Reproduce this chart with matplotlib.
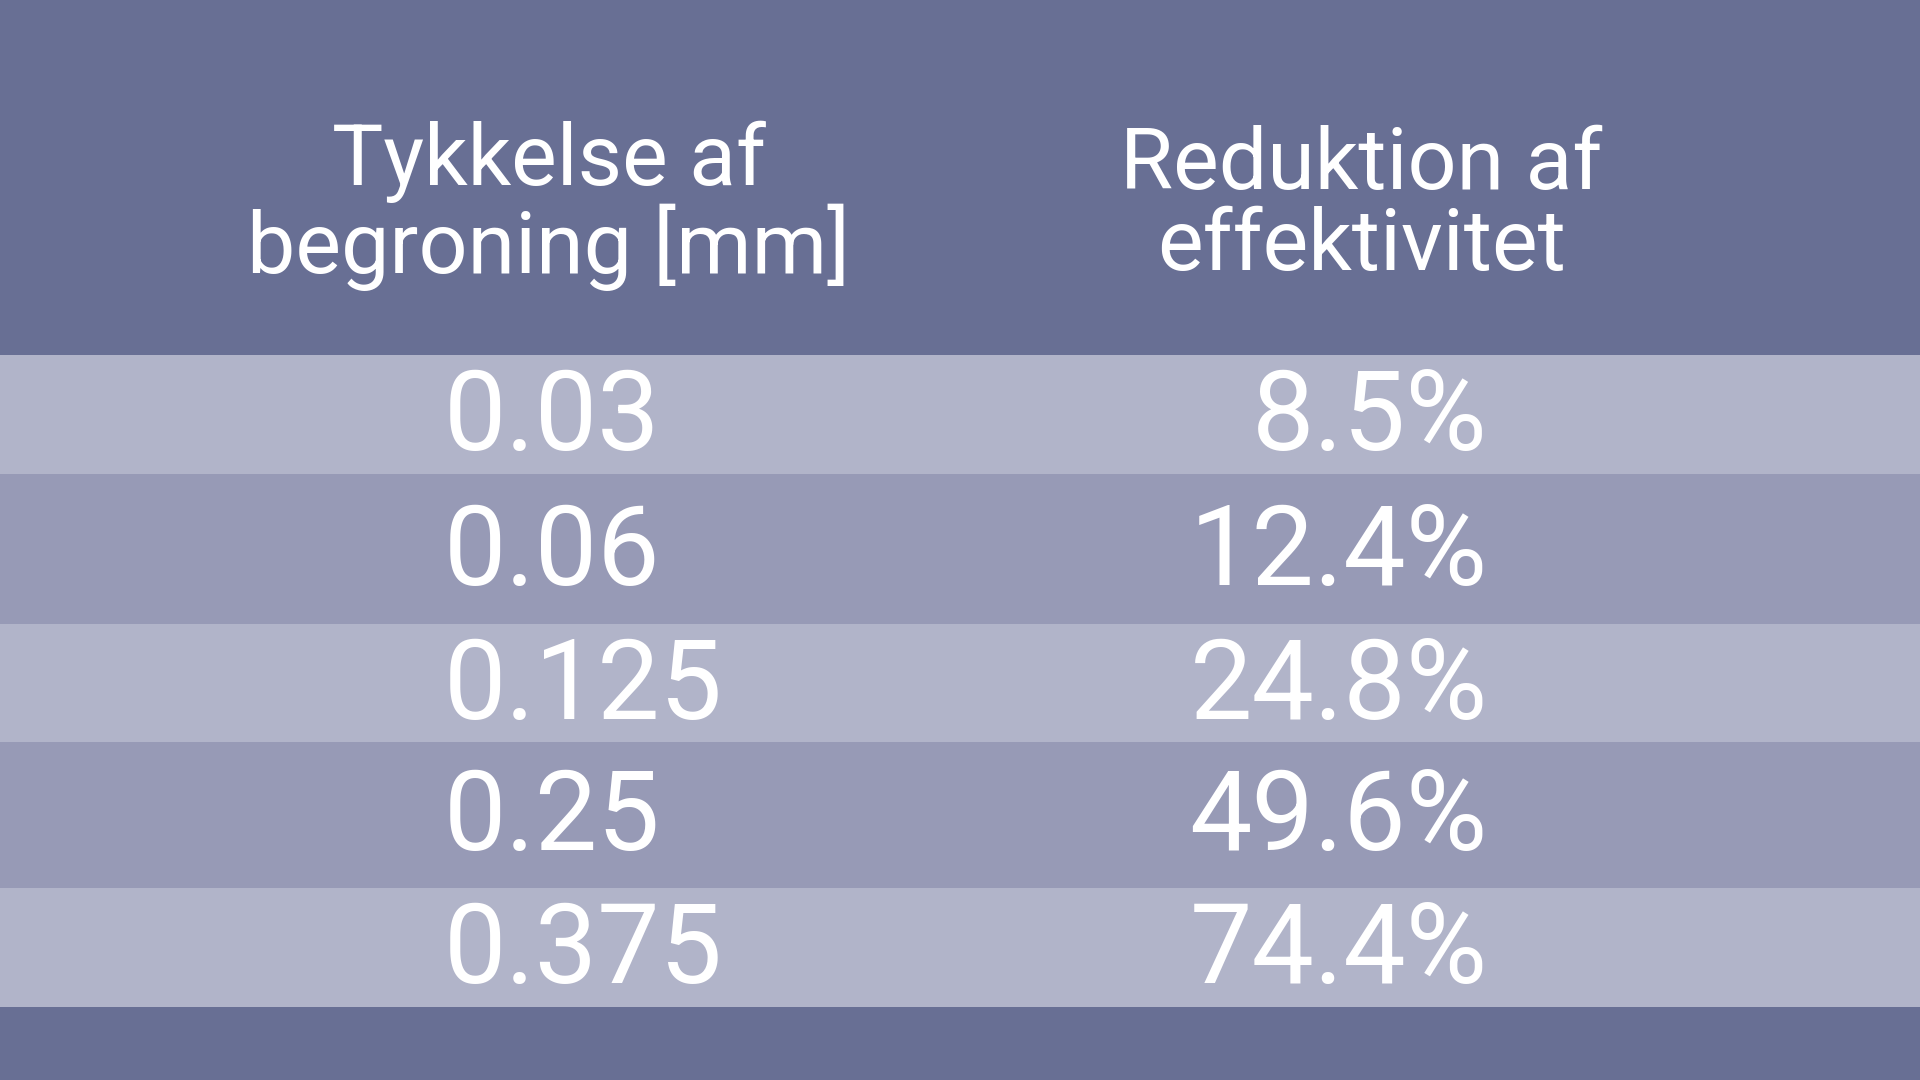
import matplotlib
matplotlib.use("Agg")
import matplotlib.pyplot as plt

headers = ["Tykkelse af\nbegroning [mm]", "Reduktion af\neffektivitet"]
thickness = ["0.03", "0.06", "0.125", "0.25", "0.375"]
reduction = ["8.5%", "12.4%", "24.8%", "49.6%", "74.4%"]

dark = "#686f94"
light = "#b1b4c9"
mid = "#979ab6"

W, H = 1568, 882
fig = plt.figure(figsize=(19.2, 10.8), dpi=100)
ax = fig.add_axes([0, 0, 1, 1])
ax.set_xlim(0, W)
ax.set_ylim(H, 0)
ax.axis("off")
fig.patch.set_facecolor(dark)
ax.set_facecolor(dark)

bounds = [290, 387, 510, 606, 725, 822]
for i in range(len(thickness)):
    top, bot = bounds[i], bounds[i + 1]
    ax.axhspan(top, bot, color=light if i % 2 == 0 else mid, lw=0)
    yc = (top + bot) / 2 + 4
    ax.text(362, yc, thickness[i], color="white", fontsize=80, family="Roboto",
            ha="left", va="center")
    ax.text(1215, yc, reduction[i], color="white", fontsize=80, family="Roboto",
            ha="right", va="center")

ax.text(448, 168, headers[0], color="white", fontsize=62, family="Roboto",
        ha="center", va="center", linespacing=1.0)
ax.text(1112, 168, headers[1], color="white", fontsize=62, family="Roboto",
        ha="center", va="center", linespacing=1.0)

fig.savefig("out.png", dpi=100, facecolor=dark)
